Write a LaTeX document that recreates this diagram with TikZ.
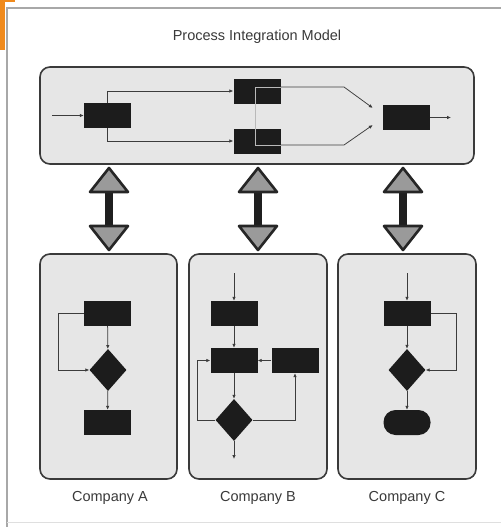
\documentclass[tikz,border=0pt]{standalone}
\usepackage{fontspec}
\setmainfont{Liberation Sans}
\usetikzlibrary{shapes.geometric,arrows.meta,calc}
\definecolor{panelfill}{HTML}{E6E6E6}
\definecolor{panelline}{HTML}{3A3A3A}
\definecolor{blkfill}{HTML}{1C1C1C}
\definecolor{lnk}{HTML}{3C3C3C}
\definecolor{txt}{HTML}{3A3A3A}
\definecolor{headfill}{HTML}{9A9A9A}
\definecolor{framec}{HTML}{A8A8A8}
\definecolor{orangec}{HTML}{F08A1C}
\tikzset{
  panel/.style={draw=panelline, fill=panelfill, line width=1.6pt, rounded corners=10pt, inner sep=0pt},
  blk/.style={fill=blkfill, minimum width=47pt, minimum height=25pt, inner sep=0pt},
  dia/.style={diamond, fill=blkfill, minimum width=37pt, minimum height=42pt, inner sep=0pt},
  stadium/.style={fill=blkfill, rounded corners=12pt, minimum width=47pt, minimum height=25pt, inner sep=0pt},
  conn/.style={draw=lnk, line width=0.75pt, -{Latex[length=4pt,width=3.5pt]}},
  lightln/.style={draw=gray!55, line width=0.8pt},
  shaft/.style={draw=black!88, line width=8pt},
  headtri/.style={draw=black!85, fill=headfill, line width=2.6pt, line join=round},
  lbl/.style={font=\fontsize{14.5}{16}\selectfont, text=txt, inner sep=0pt}
}
\begin{document}
\begin{tikzpicture}[x=1pt,y=-1pt]
\useasboundingbox (0,0) rectangle (501,527);
\fill[white] (0,0) rectangle (501,527);
% frame
\draw[framec, line width=1.5pt] (7,527) -- (7,8) -- (501,8);
\draw[gray!25, line width=1pt] (7,522) -- (501,522);
\fill[orangec] (0,0) rectangle (5,50);
\fill[orangec] (0,0) rectangle (15,2);

% title
\node[lbl] (title) at (257,37) {Process Integration Model};

% panels
\node[panel, minimum width=434pt, minimum height=97pt] (top) at (257,115.5) {};
\node[panel, minimum width=137pt, minimum height=225pt] (pa) at (108.5,366.5) {};
\node[panel, minimum width=138pt, minimum height=225pt] (pb) at (258,366.5) {};
\node[panel, minimum width=138pt, minimum height=225pt] (pc) at (407,366.5) {};

\node[lbl] (la) at (110,498) {Company A};
\node[lbl] (lb) at (258,498) {Company B};
\node[lbl] (lc) at (407,498) {Company C};

% top process
\node[blk] (t1) at (107.5,115.5) {};
\node[blk] (t2) at (257,91) {};
\node[blk] (t3) at (257,141) {};
\node[blk] (t4) at (406.5,117.5) {};
\coordinate (tin) at (52,115.5);
\coordinate (tout) at (451,117.5);
\draw[conn] (tin) -- (t1);
\draw[conn] (t1) |- (t2);
\draw[conn] (t1) |- (t3);
\draw[conn] (t4) -- (tout);
\coordinate (m2) at (255,87);
\coordinate (m3) at (255,145);
\coordinate (k1) at (344,87);
\coordinate (k2) at (344,145);
\coordinate (e1) at ($(t4.west)+(-10,-9.5)$);
\coordinate (e2) at ($(t4.west)+(-10,7.5)$);
\draw[lightln] (t2.east |- m2) -- (m2) -- (m3) -- (t3.east |- m3);
\draw[conn] (t2.east |- m2) -- (k1) -- (e1);
\draw[conn] (t3.east |- m3) -- (k2) -- (e2);

% double arrows
\coordinate (u1) at (109,168);
\coordinate (d1) at (109,250);
\coordinate (u2) at (258,168);
\coordinate (d2) at (258,250);
\coordinate (u3) at (403,168);
\coordinate (d3) at (403,250);
\foreach \n in {1,2,3}{
  \draw[shaft] ($(u\n)+(0,20)$) -- ($(d\n)+(0,-20)$);
  \draw[headtri] (u\n) -- ++(-19,24) -- ++(38,0) -- cycle;
  \draw[headtri] (d\n) -- ++(-19,-24) -- ++(38,0) -- cycle;
}

% Company A
\node[blk] (a1) at (107.5,313.5) {};
\node[dia] (ad) at (108,370) {};
\node[blk] (a2) at (107.5,422.5) {};
\coordinate (aloop) at (58,313.5);
\draw[conn] (a1) -- (ad);
\draw[conn] (ad) -- (a2);
\draw[conn] (a1.west) -- (aloop) |- (ad);

% Company B
\coordinate (bin) at (234,273);
\node[blk] (b1) at (234,313.5) {};
\node[blk] (b2) at (234,360.5) {};
\node[blk] (b3) at (295,360.5) {};
\node[dia] (bd) at (234,420) {};
\coordinate (bout) at (234,459);
\coordinate (bl) at (197,420);
\coordinate (br) at (295,420);
\draw[conn] (bin) -- (b1);
\draw[conn] (b1) -- (b2);
\draw[conn] (b3) -- (b2);
\draw[conn] (b2) -- (bd);
\draw[conn] (bd) -- (bout);
\draw[conn] (bd) -- (bl) |- (b2);
\draw[conn] (bd) -- (br) -- (b3);

% Company C
\coordinate (cin) at (407,273);
\node[blk] (c1) at (407,313.5) {};
\node[dia] (cd) at (407,370) {};
\node[stadium] (cs) at (407,422.5) {};
\coordinate (cloop) at (456,313.5);
\draw[conn] (cin) -- (c1);
\draw[conn] (c1) -- (cd);
\draw[conn] (cd) -- (cs);
\draw[conn] (c1.east) -- (cloop) |- (cd);
\end{tikzpicture}
\end{document}
